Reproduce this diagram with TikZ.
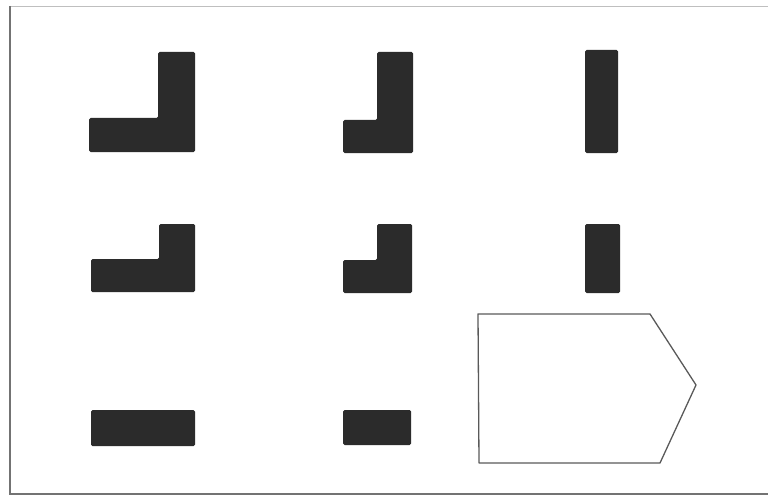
\documentclass[tikz,border=0pt]{standalone}
\usepackage{tikz}
\usetikzlibrary{calc}

\begin{document}
\begin{tikzpicture}[
    x=1pt, y=-1pt,                          % 画素座標で指定（y は下向き）
    block/.style={fill=black!83, rounded corners=1.5pt},  % 黒い図形
    outline/.style={draw=black!65, line width=1.3pt, line join=round}
]
    \useasboundingbox (0,0) rectangle (768,500);

    % --- 1. 外枠 ---
    \draw [black!25, line width=1pt] (10,7) -- (768,7);
    \draw [black!55, line width=2pt] (10,6) -- (10,494) -- (768,494);

    % --- 2. 1 行目 ---
    % L 字（大）
    \fill [block] (158,52) -- (195,52) -- (195,152) -- (89,152) -- (89,118) -- (158,118) -- cycle;
    % L 字（横が短い）
    \fill [block] (377,52) -- (413,52) -- (413,153) -- (343,153) -- (343,120) -- (377,120) -- cycle;
    % 縦棒
    \fill [block] (585,50) rectangle (618,153);

    % --- 3. 2 行目 ---
    \fill [block] (159,224) -- (195,224) -- (195,292) -- (91,292) -- (91,259) -- (159,259) -- cycle;
    \fill [block] (377,224) -- (412,224) -- (412,293) -- (343,293) -- (343,260) -- (377,260) -- cycle;
    \fill [block] (585,224) rectangle (620,293);

    % --- 4. 3 行目 ---
    \fill [block] (91,410) rectangle (195,446);
    \fill [block] (343,410) rectangle (411,445);

    % 空欄（五角形）
    \draw [outline] (478,314) -- (650,314) -- (696,385) -- (660,463) -- (479,463) -- cycle;

\end{tikzpicture}
\end{document}
